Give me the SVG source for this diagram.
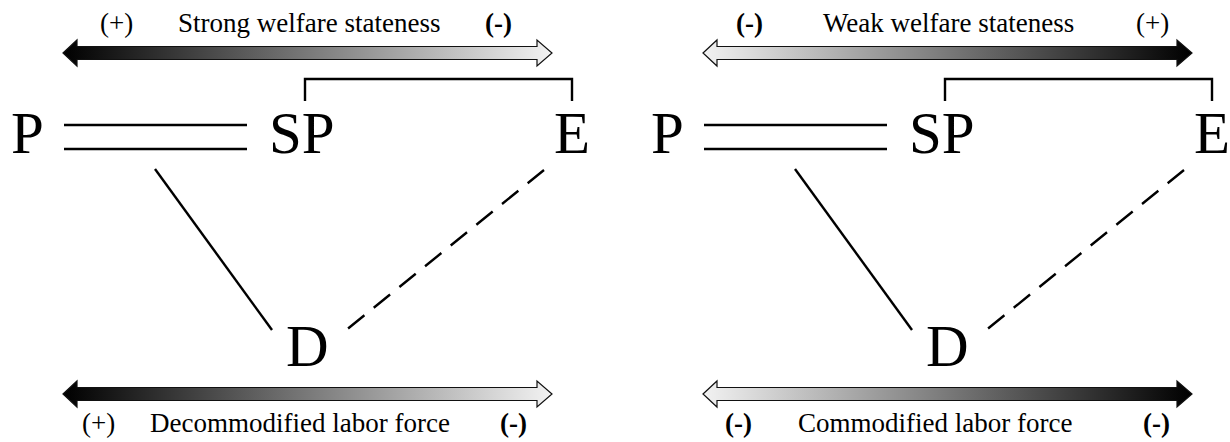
<svg xmlns="http://www.w3.org/2000/svg" width="1230" height="442" viewBox="0 0 1230 442">
<style>
.node{font-family:"Liberation Serif","Times New Roman",serif;font-size:59px;fill:#000}
.lbl{font-family:"Liberation Serif","Times New Roman",serif;font-size:27px;fill:#000}
.b{font-weight:bold}
.ln{stroke:#000;stroke-width:2.4;fill:none}
.dash{stroke-dasharray:21 12}
.arr{stroke:#111;stroke-width:1.2}
</style>
<defs>
<linearGradient id="gL1" gradientUnits="userSpaceOnUse" x1="63" y1="0" x2="552" y2="0"><stop offset="0" stop-color="#000"/><stop offset="1" stop-color="#f2f2f2"/></linearGradient>
<linearGradient id="gL2" gradientUnits="userSpaceOnUse" x1="63" y1="0" x2="552" y2="0"><stop offset="0" stop-color="#000"/><stop offset="1" stop-color="#f2f2f2"/></linearGradient>
<linearGradient id="gR1" gradientUnits="userSpaceOnUse" x1="703" y1="0" x2="1192" y2="0"><stop offset="0" stop-color="#f2f2f2"/><stop offset="1" stop-color="#000"/></linearGradient>
<linearGradient id="gR2" gradientUnits="userSpaceOnUse" x1="703" y1="0" x2="1192" y2="0"><stop offset="0" stop-color="#f2f2f2"/><stop offset="1" stop-color="#000"/></linearGradient>
</defs>

<!-- Left panel scales -->
<g id="scale-strong">
<path class="arr" fill="url(#gL1)" d="M63,53 L77,40 L77,46.5 L537,46.5 L537,40 L552,53 L537,66 L537,59.5 L77,59.5 L77,66 Z"/>
<text class="lbl" x="100" y="32">(+)</text>
<text class="lbl" x="178" y="32">Strong welfare stateness</text>
<text class="lbl b" x="485" y="32">(-)</text>
</g>
<g id="scale-decommodified">
<path class="arr" fill="url(#gL2)" d="M63,394 L77,381 L77,387.5 L537,387.5 L537,381 L552,394 L537,407 L537,400.5 L77,400.5 L77,407 Z"/>
<text class="lbl" x="82" y="432">(+)</text>
<text class="lbl" x="150" y="432">Decommodified labor force</text>
<text class="lbl b" x="500" y="432">(-)</text>
</g>

<!-- Right panel scales -->
<g id="scale-weak">
<path class="arr" fill="url(#gR1)" d="M703,53 L717,40 L717,46.5 L1177,46.5 L1177,40 L1192,53 L1177,66 L1177,59.5 L717,59.5 L717,66 Z"/>
<text class="lbl b" x="736" y="32">(-)</text>
<text class="lbl" x="823" y="32">Weak welfare stateness</text>
<text class="lbl" x="1136" y="32">(+)</text>
</g>
<g id="scale-commodified">
<path class="arr" fill="url(#gR2)" d="M703,394 L717,381 L717,387.5 L1177,387.5 L1177,381 L1192,394 L1177,407 L1177,400.5 L717,400.5 L717,407 Z"/>
<text class="lbl b" x="725" y="432">(-)</text>
<text class="lbl" x="798" y="432">Commodified labor force</text>
<text class="lbl b" x="1143" y="432">(-)</text>
</g>

<!-- Nodes left -->
<g id="P-left"><text class="node" x="11" y="153">P</text></g>
<g id="SP-left"><text class="node" x="269" y="153">SP</text></g>
<g id="E-left"><text class="node" x="554" y="153">E</text></g>
<g id="D-left"><text class="node" x="286" y="366">D</text></g>

<!-- Nodes right -->
<g id="P-right"><text class="node" x="651" y="153">P</text></g>
<g id="SP-right"><text class="node" x="909" y="153">SP</text></g>
<g id="E-right"><text class="node" x="1194" y="153">E</text></g>
<g id="D-right"><text class="node" x="926" y="366">D</text></g>

<!-- Connectors -->
<g id="connectors">
<line class="ln" x1="64" y1="125" x2="247" y2="125"/>
<line class="ln" x1="64" y1="149" x2="247" y2="149"/>
<polyline class="ln" points="305,101 305,79 572,79 572,101"/>
<line class="ln" x1="155" y1="169" x2="272" y2="330"/>
<line class="ln dash" x1="544" y1="170" x2="345" y2="331"/>

<line class="ln" x1="704" y1="125" x2="887" y2="125"/>
<line class="ln" x1="704" y1="149" x2="887" y2="149"/>
<polyline class="ln" points="945,101 945,79 1212,79 1212,101"/>
<line class="ln" x1="795" y1="169" x2="912" y2="330"/>
<line class="ln dash" x1="1184" y1="170" x2="985" y2="331"/>
</g>
</svg>
